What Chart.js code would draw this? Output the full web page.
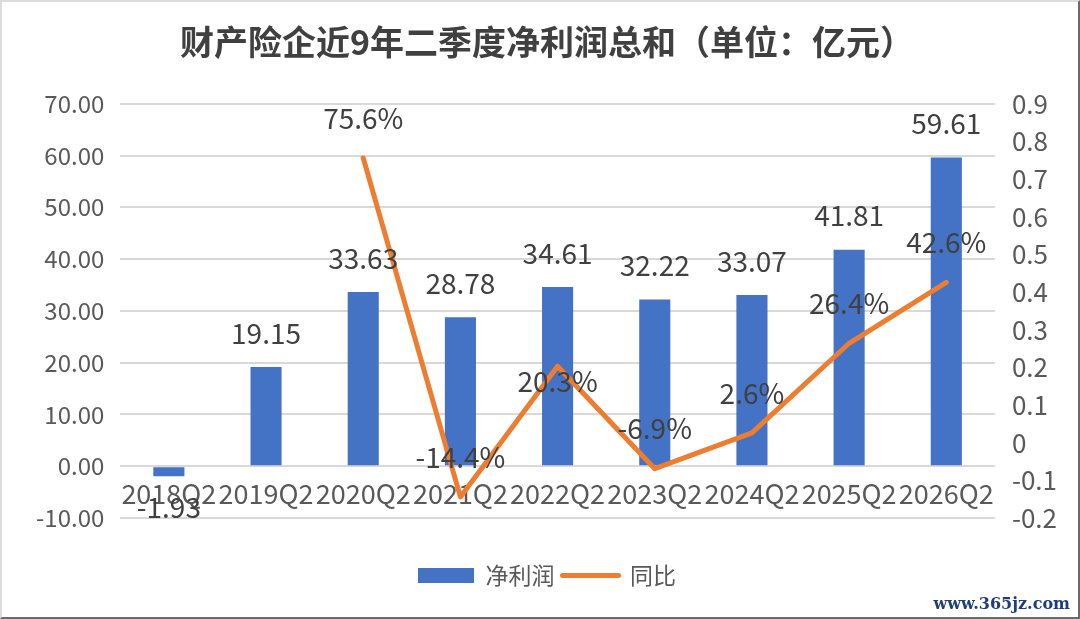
<!DOCTYPE html>
<html>
<head>
<meta charset="utf-8">
<script src="https://cdn.jsdelivr.net/npm/chart.js@4"></script>
<style>
  html, body { margin: 0; padding: 0; background: #fff; }
  #wrap {
    position: relative; width: 1080px; height: 619px; box-sizing: border-box;
    border-top: 2px solid #dcdcdc; border-left: 2px solid #dcdcdc;
    border-right: 2px solid #6a6a6a; border-bottom: 2px solid #6a6a6a;
  }
  #chart { display: block; }
  #mark {
    position: absolute; right: 8px; bottom: 4px;
    font: bold 16px "DejaVu Serif", serif; color: #1f3d7a;
  }
</style>
</head>
<body>
<div id="wrap">
  <canvas id="chart" width="1076" height="615"></canvas>
  <div id="mark">www.365jz.com</div>
</div>
<script>
const FONT = '"Noto Sans CJK SC", "Noto Sans", sans-serif';

const categories = ["2018Q2", "2019Q2", "2020Q2", "2021Q2", "2022Q2", "2023Q2", "2024Q2", "2025Q2", "2026Q2"];
const netProfit = [-1.93, 19.15, 33.63, 28.78, 34.61, 32.22, 33.07, 41.81, 59.61];
const yoyGrowth = [null, null, 0.756, -0.144, 0.203, -0.069, 0.026, 0.264, 0.426];
const yoyLabels = ["", "", "75.6%", "-14.4%", "20.3%", "-6.9%", "2.6%", "26.4%", "42.6%"];

const BLUE = "#4472C4";
const ORANGE = "#ED7D31";
const TEXT = "#595959";
const LABEL = "#404040";

// value labels, Excel style
const valueLabels = {
  id: "valueLabels",
  afterDatasetsDraw(chart) {
    const c = chart.ctx;
    c.save();
    c.fillStyle = LABEL;
    c.font = "28px " + FONT;
    c.textAlign = "center";
    c.textBaseline = "middle";
    chart.getDatasetMeta(0).data.forEach((bar, i) => {
      const v = netProfit[i];
      const y = v >= 0 ? bar.y - 34 : bar.y + 31;
      c.fillText(v.toFixed(2), bar.x, y);
    });
    chart.getDatasetMeta(1).data.forEach((pt, i) => {
      if (yoyGrowth[i] === null) return;
      const dy = i === 4 ? 15 : -40;
      c.fillText(yoyLabels[i], pt.x, pt.y + dy);
    });
    c.restore();
  }
};

new Chart(document.getElementById("chart"), {
  data: {
    labels: categories,
    datasets: [
      {
        type: "bar",
        label: "净利润",
        data: netProfit,
        backgroundColor: BLUE,
        yAxisID: "y",
        barPercentage: 0.64,
        categoryPercentage: 0.5,
        order: 1
      },
      {
        type: "line",
        label: "同比",
        data: yoyGrowth,
        borderColor: ORANGE,
        backgroundColor: ORANGE,
        borderWidth: 5,
        borderJoinStyle: "round",
        borderCapStyle: "round",
        pointRadius: 0,
        tension: 0,
        yAxisID: "y1",
        order: 0
      }
    ]
  },
  options: {
    responsive: false,
    animation: false,
    devicePixelRatio: 1,
    layout: { padding: { left: 18, right: 4, top: 6, bottom: 20 } },
    plugins: {
      title: {
        display: true,
        text: "财产险企近9年二季度净利润总和（单位：亿元）",
        color: LABEL,
        font: { family: FONT, size: 34, weight: "bold" },
        padding: { top: 14, bottom: 41 }
      },
      legend: {
        position: "bottom",
        title: { display: true, text: " ", font: { size: 10 }, padding: { top: 26, bottom: 0 } },
        labels: {
          color: TEXT,
          font: { family: FONT, size: 23 },
          usePointStyle: true,
          pointStyleWidth: 56,
          boxHeight: 15,
          padding: 8,
          sort: (a, b) => a.datasetIndex - b.datasetIndex,
          generateLabels(chart) {
            const items = Chart.defaults.plugins.legend.labels.generateLabels(chart);
            items.forEach(it => {
              if (it.datasetIndex === 0) {
                it.pointStyle = "rect";
                it.fillStyle = BLUE;
                it.strokeStyle = BLUE;
                it.lineWidth = 0;
              } else {
                it.pointStyle = "line";
                it.strokeStyle = ORANGE;
                it.lineWidth = 5;
                it.lineCap = "round";
              }
            });
            return items;
          }
        }
      },
      tooltip: { enabled: false }
    },
    scales: {
      x: {
        position: { y: 0 },
        grid: { display: false },
        border: { display: false },
        ticks: {
          color: TEXT,
          font: { family: FONT, size: 27 },
          maxRotation: 0,
          autoSkip: false,
          padding: 3
        }
      },
      y: {
        position: "left",
        min: -10,
        max: 70,
        ticks: {
          stepSize: 10,
          color: TEXT,
          font: { family: FONT, size: 24 },
          padding: 16,
          callback: v => v.toFixed(2)
        },
        grid: { color: "#d9d9d9", lineWidth: 2, drawTicks: false },
        border: { display: false }
      },
      y1: {
        position: "right",
        min: -0.2,
        max: 0.9,
        ticks: {
          stepSize: 0.1,
          color: TEXT,
          font: { family: FONT, size: 26 },
          padding: 17,
          callback: v => String(parseFloat(v.toFixed(1)))
        },
        grid: { display: false, drawTicks: false },
        border: { display: false }
      }
    }
  },
  plugins: [valueLabels]
});
</script>
</body>
</html>
